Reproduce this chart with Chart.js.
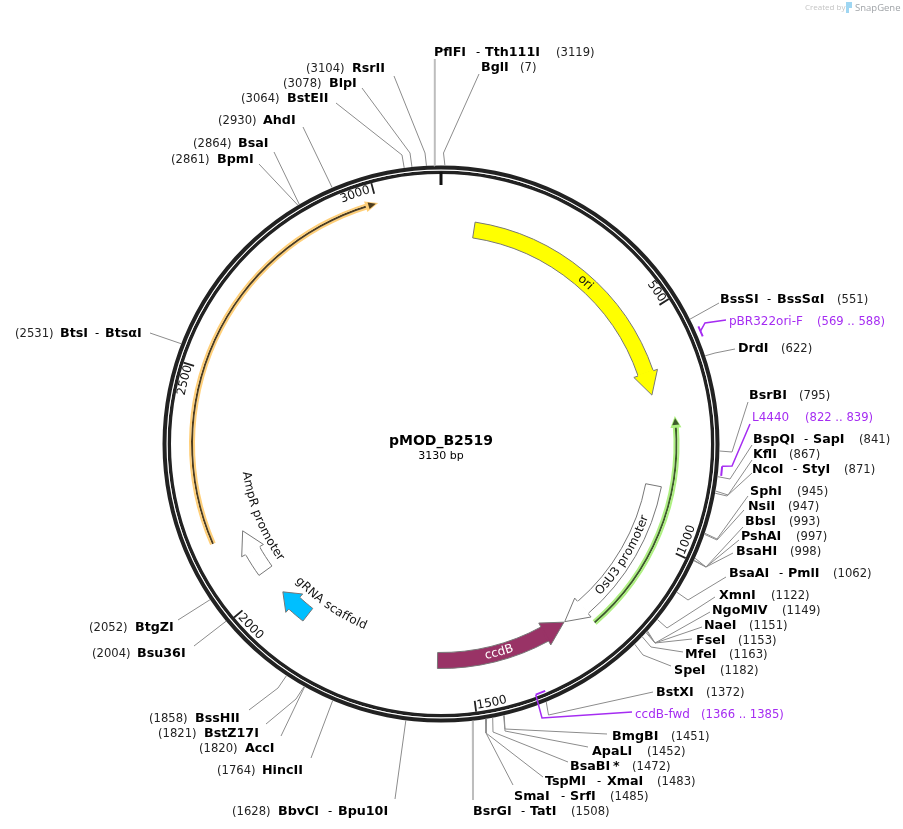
<!DOCTYPE html>
<html>
<head>
<meta charset="utf-8">
<title>pMOD_B2519</title>
<style>
  html, body { margin: 0; padding: 0; background: #fff; }
  canvas { display: block; }
</style>
</head>
<body>
<canvas id="chart" width="903" height="829"></canvas>
<script src="https://cdn.jsdelivr.net/npm/chart.js@4/dist/chart.umd.min.js"></script>
<script>
const plasmidName = "pMOD_B2519";
const plasmidLength = 3130;
const tickValues = [500, 1000, 1500, 2000, 2500, 3000];

// restriction sites
const siteNames = ["PflFI", "BglI", "BssSI", "DrdI", "BsrBI", "BspQI", "KflI", "NcoI", "SphI", "NsiI", "BbsI", "PshAI", "BsaHI", "BsaAI", "XmnI", "NgoMIV", "NaeI", "FseI", "MfeI", "SpeI", "BstXI", "BmgBI", "ApaLI", "BsaBI", "TspMI", "SmaI", "BsrGI", "BbvCI", "HincII", "AccI", "BstZ17I", "BssHII", "Bsu36I", "BtgZI", "BtsI", "BpmI", "BsaI", "AhdI", "BstEII", "BlpI", "RsrII"];
const sitePartners = ["Tth111I", "", "BssSαI", "", "", "SapI", "", "StyI", "", "", "", "", "", "PmlI", "", "", "", "", "", "", "", "", "", "*", "XmaI", "SrfI", "TatI", "Bpu10I", "", "", "", "", "", "", "BtsαI", "", "", "", "", "", ""];
const siteBp = [3119, 7, 551, 622, 795, 841, 867, 871, 945, 947, 993, 997, 998, 1062, 1122, 1149, 1151, 1153, 1163, 1182, 1372, 1451, 1452, 1472, 1483, 1485, 1508, 1628, 1764, 1820, 1821, 1858, 2004, 2052, 2531, 2861, 2864, 2930, 3064, 3078, 3104];

// primers
const primerNames = ["pBR322ori-F", "L4440", "ccdB-fwd"];
const primerStart = [569, 822, 1366];
const primerEnd = [588, 839, 1385];

// features on the inner track: tail, start of head, tip
const featureNames = ["ori", "OsU3 promoter", "ccdB", "gRNA scaffold", "AmpR promoter"];
const featureTail = [76, 878, 1573, 1895, 2036];
const featureHead = [617, 1209, 1316, 1936, 2091];
const featureTip = [669, 1262, 1264, 1973, 2142];
const featureColors = ["#ffff00", "#ffffff", "#993366", "#00bfff", "#ffffff"];

// thin features: tail, start of head, tip
const ampTail = 2142, ampHead = 2983, ampTip = 2998;
const greenTail = 1211, greenHead = 742, greenTip = 728;

// --- layout ---
const cx = 441, cy = 444, outerR = 278.5, innerR = 208.5;
const grey = "#8c8c8c", purple = "#a52cf2";

// [name x, y, dash x, partner x, number x]
const siteLayout = [
  [434, 52, 476, 485, 556], [481, 67, 0, 0, 520], [720, 299, 767, 777, 837], [738, 348, 0, 0, 781],
  [749, 395, 0, 0, 799], [753, 439, 804, 813, 859], [753, 454, 0, 0, 789], [752, 469, 793, 802, 844],
  [750, 491, 0, 0, 797], [748, 506, 0, 0, 788], [745, 521, 0, 0, 789], [741, 536, 0, 0, 796],
  [736, 551, 0, 0, 790], [729, 573, 779, 788, 833], [719, 595, 0, 0, 771], [712, 610, 0, 0, 782],
  [704, 625, 0, 0, 749], [696, 640, 0, 0, 738], [685, 654, 0, 0, 729], [674, 670, 0, 0, 720],
  [656, 692, 0, 0, 706], [612, 736, 0, 0, 671], [592, 751, 0, 0, 647], [570, 766, 0, 613, 632],
  [545, 781, 597, 607, 657], [514, 796, 561, 570, 610], [473, 811, 521, 530, 571], [278, 811, 328, 338, 232],
  [262, 770, 0, 0, 217], [245, 748, 0, 0, 199], [204, 733, 0, 0, 158], [195, 718, 0, 0, 149],
  [137, 653, 0, 0, 92], [135, 627, 0, 0, 89], [60, 333, 95, 105, 15], [217, 159, 0, 0, 171],
  [238, 143, 0, 0, 193], [263, 120, 0, 0, 218], [287, 98, 0, 0, 241], [329, 83, 0, 0, 283], [352, 68, 0, 0, 306]
];
// [elbow x, elbow y, end x, end y], elbow 0 when the leader is straight
const siteLeaders = [
  [0, 0, 434.8, 59], [443.5, 153, 479, 74], [0, 0, 719, 303], [715, 353, 735, 349],
  [732, 452, 748, 402], [730, 479, 752, 445], [728, 495, 752, 460], [727, 496, 752, 473],
  [717, 539, 748, 496], [717, 540, 744, 510], [706, 567, 743, 527], [706, 567, 739, 540],
  [706, 567, 733, 553], [688, 600, 726, 577], [667, 628, 715, 597], [655, 643, 710, 612],
  [655, 643, 702, 627], [655, 643, 692, 639], [651, 647, 683, 652], [643, 655, 671, 666],
  [548.5, 715, 653, 692], [505, 729, 607, 734], [505, 731, 588, 747], [493, 732, 568, 762],
  [486, 733, 543, 777], [486, 733, 513, 785], [0, 0, 473, 800], [0, 0, 395, 799],
  [0, 0, 311, 758], [0, 0, 281, 736], [296, 699, 266, 724], [278, 688, 249, 710],
  [0, 0, 194, 646], [0, 0, 178, 620], [0, 0, 150, 333], [0, 0, 259, 164],
  [0, 0, 274, 152], [0, 0, 303, 127], [402, 155, 336, 103], [410, 153, 362, 88], [425, 153, 394, 76]
];
const wideLeaders = [3119, 1508];

// [name x, y, number x]
const primerLayout = [[729, 321, 817], [752, 417, 805], [635, 714, 701]];
// [ring r, leader start bp, elbow x, elbow y, end x, end y]
const primerLeaders = [[283, 578, 705, 323, 726, 320], [282, 822, 732, 466, 750, 424], [268, 1385, 542, 718, 632, 712]];

// [centre angle in degrees, radius, direction]
const tickLabelPlace = [[54.7, 264, 1], [111.3, 264, -1], [168.9, 264, -1], [226.2, 264, -1], [284, 264, 1], [341, 264, 1]];
const featureLabelPlace = [[41.8, 216.5, 1], [121.5, 216.5, -1], [164.4, 216.5, -1], [214.5, 197, -1], [248, 197, -1]];

const font = "'DejaVu Sans'";

function toAngle(bp) {
  return bp / plasmidLength * 2 * Math.PI;
}

function polarXY(bp, r) {
  return { x: cx + r * Math.sin(toAngle(bp)), y: cy - r * Math.cos(toAngle(bp)) };
}

// a doughnut ring made of gaps and coloured arcs around the plasmid
function ringData(from, to) {
  return [Math.min(from, to), Math.abs(to - from), plasmidLength - Math.max(from, to)];
}

function ring(data, color, weight, borderColor, borderWidth) {
  return {
    type: "doughnut",
    data: data,
    weight: weight,
    backgroundColor: color,
    borderColor: borderColor || "transparent",
    borderWidth: borderWidth || 0,
    hoverBorderWidth: 0,
    hoverOffset: 0,
    order: 5,
  };
}

// inner track: gaps between the features, in plasmid order
function featureTrack() {
  const data = [], colors = [], borders = [];
  let at = 0;
  featureTail.forEach((tail, i) => {
    const a = Math.min(tail, featureHead[i]);
    const b = Math.max(tail, featureHead[i]);
    data.push(a - at, b - a);
    colors.push("transparent", featureColors[i]);
    borders.push(0, 1);
    at = b;
  });
  data.push(plasmidLength - at);
  colors.push("transparent");
  borders.push(0);
  return { data, colors, borders };
}

const track = featureTrack();
const ampArc = ringData(ampTail, ampHead);
const greenArc = ringData(greenHead, greenTail);
const glowOrange = "#ffcf78", glowGreen = "#aef081", coreOrange = "#4d3d20", coreGreen = "#3d5c2a";

// leader lines, broken by empty points
const thinLeaders = [], thickLeaders = [];
siteBp.forEach((bp, i) => {
  const out = wideLeaders.includes(bp) ? thickLeaders : thinLeaders;
  const l = siteLeaders[i];
  out.push(polarXY(bp, outerR));
  if (l[0]) out.push({ x: l[0], y: l[1] });
  out.push({ x: l[2], y: l[3] }, { x: null, y: null });
});

const primerLines = [], primerMarks = [];
primerStart.forEach((s, i) => {
  const l = primerLeaders[i];
  primerMarks.push(polarXY(s, l[0]), polarXY(primerEnd[i], l[0]), { x: null, y: null });
  primerLines.push(polarXY(l[1], l[0]), { x: l[2], y: l[3] }, { x: l[4], y: l[5] }, { x: null, y: null });
});

const tickLines = [];
tickValues.forEach((t) => {
  tickLines.push(polarXY(t, 270), polarXY(t, 259), { x: null, y: null });
});

function lineSet(data, color, width) {
  return {
    type: "scatter",
    data: data,
    showLine: true,
    borderColor: color,
    borderWidth: width,
    pointRadius: 0,
    pointHoverRadius: 0,
    weight: 0,
    clip: false,
    order: 1,
  };
}

function arrowPath(ctx, head, tip, r, halfBody, halfHead) {
  const a = polarXY(head, r + halfBody), b = polarXY(head, r + halfHead);
  const c = polarXY(tip, r);
  const d = polarXY(head, r - halfHead), e = polarXY(head, r - halfBody);
  ctx.beginPath();
  ctx.moveTo(a.x, a.y);
  ctx.lineTo(b.x, b.y);
  ctx.lineTo(c.x, c.y);
  ctx.lineTo(d.x, d.y);
  ctx.lineTo(e.x, e.y);
  return [a, e];
}

function arcText(ctx, text, deg, r, dir) {
  const widths = [...text].map((ch) => ctx.measureText(ch).width);
  const total = widths.reduce((s, w) => s + w, 0);
  let a = deg * Math.PI / 180 - dir * total / 2 / r;
  [...text].forEach((ch, i) => {
    const mid = a + dir * widths[i] / 2 / r;
    ctx.save();
    ctx.translate(cx + r * Math.sin(mid), cy - r * Math.cos(mid));
    ctx.rotate(dir > 0 ? mid : mid + Math.PI);
    ctx.textAlign = "center";
    ctx.textBaseline = "middle";
    ctx.fillText(ch, 0, 0);
    ctx.restore();
    a += dir * widths[i] / r;
  });
}

const mapPlugin = {
  id: "plasmidMap",
  afterDatasetsDraw(chart) {
    const ctx = chart.ctx;
    ctx.save();

    // arrow heads, the base line of the shaft gets painted over
    featureTip.forEach((tip, i) => {
      const base = arrowPath(ctx, featureHead[i], tip, 216.5, 8, 12.5);
      ctx.fillStyle = featureColors[i];
      ctx.fill();
      ctx.strokeStyle = "#777";
      ctx.lineWidth = 1;
      ctx.stroke();
      ctx.beginPath();
      ctx.moveTo(base[0].x, base[0].y);
      ctx.lineTo(base[1].x, base[1].y);
      ctx.strokeStyle = featureColors[i];
      ctx.lineWidth = 2;
      ctx.stroke();
    });
    arrowPath(ctx, ampHead - 6, ampTip + 5, 249, 3, 5.5);
    ctx.fillStyle = glowOrange;
    ctx.fill();
    arrowPath(ctx, ampHead, ampTip, 249, 1, 3.5);
    ctx.fillStyle = coreOrange;
    ctx.fill();
    arrowPath(ctx, greenHead + 6, greenTip - 5, 235.5, 3, 5.5);
    ctx.fillStyle = glowGreen;
    ctx.fill();
    arrowPath(ctx, greenHead, greenTip, 235.5, 1, 3.5);
    ctx.fillStyle = coreGreen;
    ctx.fill();

    // site labels
    ctx.textBaseline = "middle";
    ctx.textAlign = "left";
    siteNames.forEach((name, i) => {
      const l = siteLayout[i];
      const y = l[1] + 1;
      ctx.fillStyle = "#000";
      ctx.font = "bold 12.7px " + font;
      ctx.fillText(name, l[0], y);
      if (sitePartners[i]) ctx.fillText(sitePartners[i], l[3], y);
      ctx.font = "11.6px " + font;
      if (l[2]) ctx.fillText("-", l[2], y);
      ctx.fillStyle = "#222";
      ctx.fillText("(" + siteBp[i] + ")", l[4], y);
    });

    // primer labels
    ctx.fillStyle = purple;
    primerNames.forEach((name, i) => {
      const l = primerLayout[i];
      ctx.font = "12px " + font;
      ctx.fillText(name, l[0], l[1] + 1);
      ctx.font = "11.6px " + font;
      ctx.fillText("(" + primerStart[i] + " .. " + primerEnd[i] + ")", l[2], l[1] + 1);
    });

    // tick numbers and feature names follow the circle
    ctx.fillStyle = "#111";
    ctx.font = "12px " + font;
    tickValues.forEach((t, i) => {
      arcText(ctx, String(t), tickLabelPlace[i][0], tickLabelPlace[i][1], tickLabelPlace[i][2]);
    });
    featureNames.forEach((name, i) => {
      ctx.fillStyle = name === "ccdB" ? "#fff" : "#111";
      arcText(ctx, name, featureLabelPlace[i][0], featureLabelPlace[i][1], featureLabelPlace[i][2]);
    });

    // title in the middle
    ctx.textAlign = "center";
    ctx.fillStyle = "#000";
    ctx.font = "bold 14px " + font;
    ctx.fillText(plasmidName, 441, 441);
    ctx.font = "11px " + font;
    ctx.fillText(plasmidLength + " bp", 441, 456);

    // credit in the corner
    ctx.textAlign = "left";
    ctx.fillStyle = "#c4c4c4";
    ctx.font = "8px 'Open Sans'";
    ctx.fillText("Created by", 805, 8);
    ctx.fillStyle = "#9fd6f2";
    ctx.fillRect(846, 2, 3, 11);
    ctx.fillRect(849, 2, 3, 6);
    ctx.fillStyle = "#a0a4a8";
    ctx.font = "9.5px 'Open Sans'";
    ctx.fillText("SnapGene", 855, 8);

    ctx.restore();
  },
};

const chart = new Chart(document.querySelector("#chart"), {
  type: "scatter",
  data: {
    datasets: [
      ring([plasmidLength], "#222222", 4),
      ring([plasmidLength], "#ffffff", 1),
      ring([plasmidLength], "#222222", 3.5),
      ring([plasmidLength], "transparent", 18),
      ring(ampArc, ["transparent", glowOrange, "transparent"], 2),
      ring(ampArc, ["transparent", coreOrange, "transparent"], 2),
      ring(ampArc, ["transparent", glowOrange, "transparent"], 2),
      ring([plasmidLength], "transparent", 7.5),
      ring(greenArc, ["transparent", glowGreen, "transparent"], 2),
      ring(greenArc, ["transparent", coreGreen, "transparent"], 2),
      ring(greenArc, ["transparent", glowGreen, "transparent"], 2),
      ring([plasmidLength], "transparent", 8),
      ring(track.data, track.colors, 16, "#777777", track.borders),
      lineSet(thinLeaders, grey, 1),
      lineSet(thickLeaders, "#bdbdbd", 2),
      lineSet(primerLines, purple, 1.5),
      lineSet(primerMarks, purple, 2),
      lineSet(tickLines, "#222222", 1.8),
      lineSet([polarXY(0, 272), polarXY(0, 259)], "#111111", 3),
    ],
  },
  options: {
    responsive: false,
    animation: false,
    events: [],
    layout: { padding: { left: cx - outerR, right: 903 - cx - outerR, top: cy - outerR, bottom: 829 - cy - outerR } },
    // radius in pixels, the cutout as a share of it
    datasets: { doughnut: { radius: outerR, cutout: (innerR / outerR * 100) + "%" } },
    plugins: { legend: { display: false }, tooltip: { enabled: false } },
    scales: {
      x: { type: "linear", display: false, min: cx - outerR, max: cx + outerR },
      y: { type: "linear", display: false, reverse: true, min: cy - outerR, max: cy + outerR },
    },
  },
  plugins: [mapPlugin],
});
</script>
</body>
</html>
